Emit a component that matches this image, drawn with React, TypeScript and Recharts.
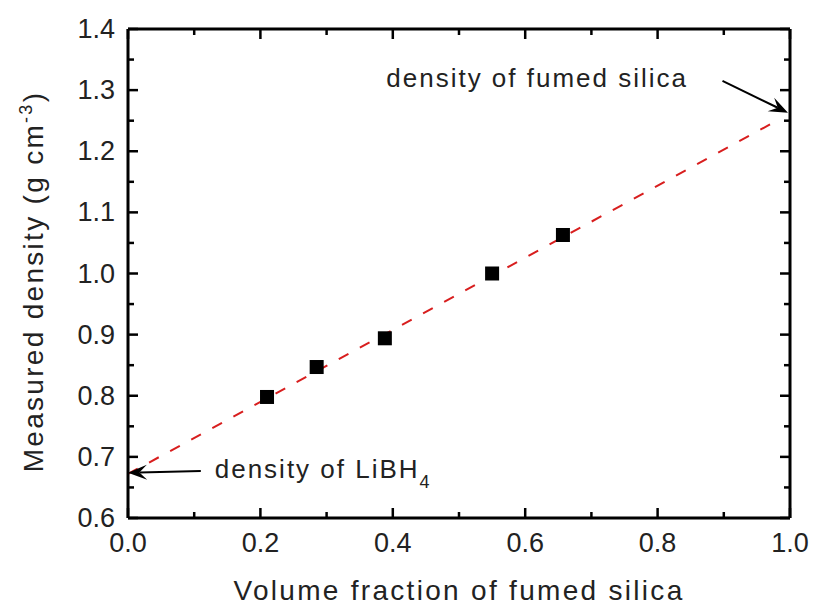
import { ComposedChart, Line, Scatter, XAxis, YAxis, ReferenceLine, ReferenceDot } from 'recharts';

const fraction = [0.21, 0.285, 0.388, 0.55, 0.657];
const density = [0.798, 0.847, 0.894, 1.0, 1.063];

const fitFraction = [0, 0.97];
const fitDensity = [0.672, 1.244];

const xTicks = [0, 0.1, 0.2, 0.3, 0.4, 0.5, 0.6, 0.7, 0.8, 0.9, 1.0];
const yTicks = [0.6, 0.65, 0.7, 0.75, 0.8, 0.85, 0.9, 0.95, 1.0, 1.05, 1.1, 1.15, 1.2, 1.25, 1.3, 1.35, 1.4];

// arrows: [tailX, tailY, tipX, tipY]
const silicaArrow = [0.898, 1.315, 0.997, 1.263];
const libh4Arrow = [0.11, 0.677, 0.0, 0.674];
const silicaTextAt = [0.846, 1.305];
const libh4TextAt = [0.131, 0.665];

const points = fraction.map((x, i) => ({ x, y: density[i] }));
const fit = fitFraction.map((x, i) => ({ x, y: fitDensity[i] }));

const FONT = "'Liberation Sans', Arial, sans-serif";

const isMajorX = (v: number) => Math.round(v * 10) % 2 === 0;
const isMajorY = (v: number) => Math.round(v * 100) % 10 === 0;

function BottomTick({ x, y, payload }: any) {
  const major = isMajorX(payload.value);
  return (
    <g>
      <line x1={x} x2={x} y1={y} y2={y - (major ? 10 : 6)} stroke="#000" strokeWidth={2.5} />
      {major && (
        <text x={x} y={y + 34} textAnchor="middle" fontFamily={FONT} fontSize={27} fill="#222">
          {payload.value.toFixed(1)}
        </text>
      )}
    </g>
  );
}

function TopTick({ x, y, payload }: any) {
  const major = isMajorX(payload.value);
  return <line x1={x} x2={x} y1={y} y2={y + (major ? 10 : 6)} stroke="#000" strokeWidth={2.5} />;
}

function LeftTick({ x, y, payload }: any) {
  const major = isMajorY(payload.value);
  return (
    <g>
      <line x1={x} x2={x + (major ? 10 : 6)} y1={y} y2={y} stroke="#000" strokeWidth={2.5} />
      {major && (
        <text x={x - 13} y={y + 9} textAnchor="end" fontFamily={FONT} fontSize={27} fill="#222">
          {payload.value.toFixed(1)}
        </text>
      )}
    </g>
  );
}

function RightTick({ x, y, payload }: any) {
  const major = isMajorY(payload.value);
  return <line x1={x} x2={x - (major ? 10 : 6)} y1={y} y2={y} stroke="#000" strokeWidth={2.5} />;
}

function Square({ cx, cy }: any) {
  return <rect x={cx - 7} y={cy - 7} width={14} height={14} fill="#000" />;
}

function Arrow(props: any) {
  const { x1, y1, x2, y2 } = props;
  const a = Math.atan2(y2 - y1, x2 - x1);
  const len = 19;
  const w = 7.5;
  const bx = x2 - len * Math.cos(a);
  const by = y2 - len * Math.sin(a);
  const nx = -Math.sin(a);
  const ny = Math.cos(a);
  const mx = x2 - len * 0.6 * Math.cos(a);
  const my = y2 - len * 0.6 * Math.sin(a);
  return (
    <g>
      <line x1={x1} y1={y1} x2={mx} y2={my} stroke="#000" strokeWidth={2} />
      <path
        d={`M${x2},${y2} L${bx + nx * w},${by + ny * w} L${mx},${my} L${bx - nx * w},${by - ny * w} Z`}
        fill="#000"
      />
    </g>
  );
}

export default function App() {
  return (
    <div style={{ position: 'absolute', left: 0, top: 0, width: 813, height: 606, background: '#fff' }}>
      <ComposedChart width={813} height={606} margin={{ top: 28, right: 22, bottom: 0, left: 0 }}>
        <XAxis
          type="number"
          dataKey="x"
          domain={[0, 1]}
          ticks={xTicks}
          height={88}
          tickSize={0}
          tickMargin={0}
          tickLine={false}
          axisLine={{ stroke: '#000', strokeWidth: 3 }}
          tick={BottomTick}
          interval={0}
          label={{
            value: 'Volume fraction of fumed silica',
            position: 'insideBottom',
            offset: 6,
            style: { fontFamily: FONT, fontSize: 28, letterSpacing: 2.3, fill: '#222' },
          }}
        />
        <XAxis
          xAxisId="top"
          orientation="top"
          type="number"
          dataKey="x"
          domain={[0, 1]}
          ticks={xTicks}
          height={1}
          tickSize={0}
          tickMargin={0}
          tickLine={false}
          axisLine={{ stroke: '#000', strokeWidth: 3 }}
          tick={TopTick}
          interval={0}
        />
        <YAxis
          type="number"
          domain={[0.6, 1.4]}
          ticks={yTicks}
          width={128}
          tickSize={0}
          tickMargin={0}
          tickLine={false}
          axisLine={{ stroke: '#000', strokeWidth: 3 }}
          tick={LeftTick}
          interval={0}
          label={{
            content: ({ viewBox }: any) => {
              const cy = viewBox.y + viewBox.height / 2 + 8;
              return (
                <text
                  x={43}
                  y={cy}
                  transform={`rotate(-90, 43, ${cy})`}
                  textAnchor="middle"
                  fontFamily={FONT}
                  fontSize={28}
                  letterSpacing={2.3}
                  fill="#222"
                >
                  Measured density (g cm
                  <tspan dy={-11} fontSize={18}>-3</tspan>
                  <tspan dy={11}>)</tspan>
                </text>
              );
            },
          }}
        />
        <YAxis
          yAxisId="right"
          orientation="right"
          type="number"
          domain={[0.6, 1.4]}
          ticks={yTicks}
          width={1}
          tickSize={0}
          tickMargin={0}
          tickLine={false}
          axisLine={{ stroke: '#000', strokeWidth: 3 }}
          tick={RightTick}
          interval={0}
        />
        <Scatter data={points} dataKey="y" shape={Square} isAnimationActive={false} />
        <Line
          data={fit}
          dataKey="y"
          xAxisId="top"
          yAxisId="right"
          type="linear"
          stroke="#d81e1e"
          strokeWidth={2}
          strokeDasharray="11 13"
          dot={false}
          activeDot={false}
          isAnimationActive={false}
        />
        <ReferenceLine
          segment={[
            { x: silicaArrow[0], y: silicaArrow[1] },
            { x: silicaArrow[2], y: silicaArrow[3] },
          ]}
          ifOverflow="visible"
          shape={Arrow}
        />
        <ReferenceLine
          segment={[
            { x: libh4Arrow[0], y: libh4Arrow[1] },
            { x: libh4Arrow[2], y: libh4Arrow[3] },
          ]}
          ifOverflow="visible"
          shape={Arrow}
        />
        <ReferenceDot
          x={silicaTextAt[0]}
          y={silicaTextAt[1]}
          r={1}
          fill="none"
          stroke="none"
          ifOverflow="visible"
          label={{
            content: ({ viewBox }: any) => (
              <text
                x={viewBox.x + viewBox.width / 2}
                y={viewBox.y + viewBox.height / 2}
                textAnchor="end"
                fontFamily={FONT}
                fontSize={26}
                letterSpacing={2}
                fill="#222"
              >
                density of fumed silica
              </text>
            ),
          }}
        />
        <ReferenceDot
          x={libh4TextAt[0]}
          y={libh4TextAt[1]}
          r={1}
          fill="none"
          stroke="none"
          ifOverflow="visible"
          label={{
            content: ({ viewBox }: any) => (
              <text
                x={viewBox.x + viewBox.width / 2}
                y={viewBox.y + viewBox.height / 2}
                textAnchor="start"
                fontFamily={FONT}
                fontSize={26}
                letterSpacing={2}
                fill="#222"
              >
                density of LiBH
                <tspan dy={10} fontSize={18}>4</tspan>
              </text>
            ),
          }}
        />
      </ComposedChart>
    </div>
  );
}
